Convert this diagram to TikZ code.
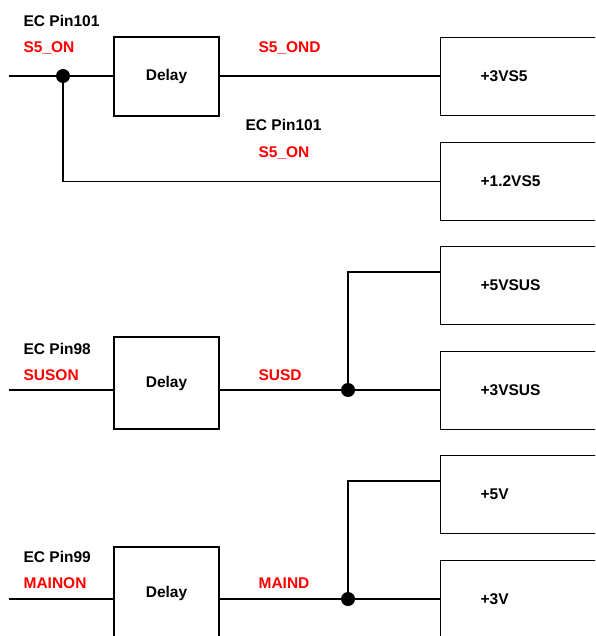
\documentclass[tikz,border=0pt]{standalone}
\usepackage{fontspec}
\setmainfont{Liberation Sans}
\usetikzlibrary{calc}

\begin{document}
\begin{tikzpicture}[x=1pt,y=-1pt,line width=1.2pt,
  txt/.style={font=\bfseries\fontsize{15.5}{18}\selectfont,inner sep=0pt,anchor=base west},
  sig/.style={txt,text=red},
  dly/.style={draw,minimum width=105pt,minimum height=#1,inner sep=0pt,
    font=\bfseries\fontsize{15.5}{18}\selectfont},
  rail/.style={draw,anchor=north west,minimum height=78pt,text width=140pt,
    inner xsep=40pt,inner ysep=0pt,align=left,font=\bfseries\fontsize{15.5}{18}\selectfont}]
  \useasboundingbox (0,0) rectangle (595,636);
  \clip (0,0) rectangle (595,636);
  % delay blocks
  \node[dly=79pt] (dly1) at (166.5,76.5) {Delay};
  \node[dly=92pt] (dly2) at (166.5,383) {Delay};
  \node[dly=92pt] (dly3) at (166.5,593) {Delay};
  % power rails
  \node[rail] (b3vs5)  at (440,37)  {+3VS5};
  \node[rail] (b12vs5) at (440,142) {+1.2VS5};
  \node[rail] (b5vsus) at (440,246) {+5VSUS};
  \node[rail] (b3vsus) at (440,351) {+3VSUS};
  \node[rail] (b5v)    at (440,455) {+5V};
  \node[rail] (b3v)    at (440,560) {+3V};
  % wire ends and junctions
  \coordinate (in1) at (9,76);
  \coordinate (j1) at (63,76);
  \coordinate (in2) at (9,390);
  \coordinate (j2) at (348,390);
  \coordinate (t2) at (348,272);
  \coordinate (in3) at (9,599);
  \coordinate (j3) at (348,599);
  \coordinate (t3) at (348,481);
  % S5 group
  \draw (in1) -- (j1) -- (j1 -| dly1.west);
  \draw (dly1.east |- j1) -- (j1 -| b3vs5.west);
  \draw (j1) |- (b12vs5.west);
  % SUS group
  \draw (in2) -- (in2 -| dly2.west);
  \draw (dly2.east |- in2) -- (j2) -- (j2 -| b3vsus.west);
  \draw (j2) -- (t2) -- (t2 -| b5vsus.west);
  % MAIN group
  \draw (in3) -- (in3 -| dly3.west);
  \draw (dly3.east |- in3) -- (j3) -- (j3 -| b3v.west);
  \draw (j3) -- (t3) -- (t3 -| b5v.west);
  \foreach \j in {j1,j2,j3}{ \fill (\j) circle (7pt); }
  % labels
  \node[txt] (pin1)  at (23,27)    {EC Pin101};
  \node[sig] (s5on)  at (23,53)    {S5\_ON};
  \node[sig] (s5ond) at (258,53)   {S5\_OND};
  \node[txt] (pin1b) at (245,130.5) {EC Pin101};
  \node[sig] (s5onb) at (258,157.5) {S5\_ON};
  \node[txt] (pin2)  at (23,354.5) {EC Pin98};
  \node[sig] (suson) at (23,380.5) {SUSON};
  \node[sig] (susd)  at (258,380.5) {SUSD};
  \node[txt] (pin3)  at (23,562.5) {EC Pin99};
  \node[sig] (mainon) at (23,588.5) {MAINON};
  \node[sig] (maind) at (258,588.5) {MAIND};
\end{tikzpicture}
\end{document}
